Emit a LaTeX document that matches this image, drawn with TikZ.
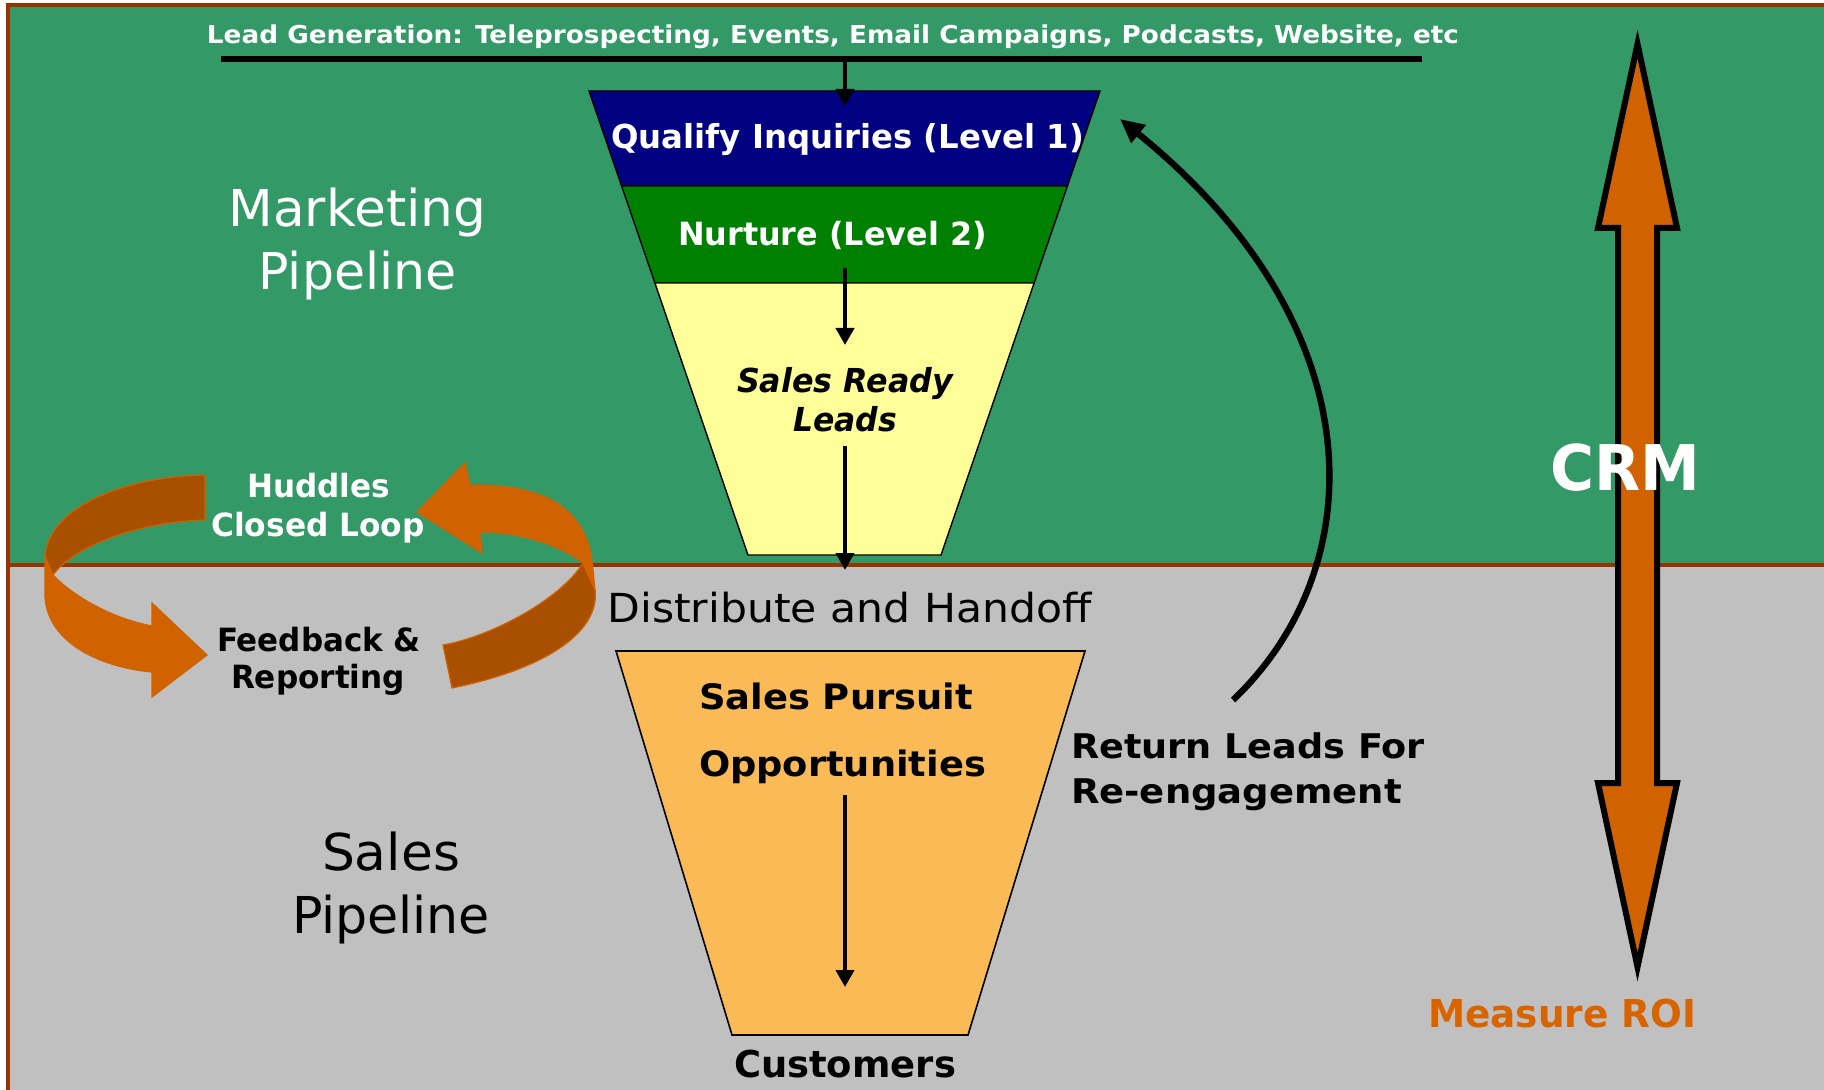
\documentclass[tikz,border=0pt]{standalone}
\usepackage{fontspec}
\setmainfont{DejaVu Sans}
\usepackage{graphicx}
\usetikzlibrary{arrows.meta}

\definecolor{bggreen}{HTML}{339966}
\definecolor{bggray}{HTML}{C0C0C0}
\definecolor{frame}{HTML}{993300}
\definecolor{navyband}{HTML}{000080}
\definecolor{greenband}{HTML}{008000}
\definecolor{leadyellow}{HTML}{FFFF99}
\definecolor{salesorange}{HTML}{FABA55}
\definecolor{arroworange}{HTML}{D06200}
\definecolor{ribbondark}{HTML}{A84F00}
\definecolor{roiorange}{HTML}{D86400}

% set a line of text and stretch it horizontally to a given width (in px units)
\newsavebox\fitbox
\newcommand\fitw[2]{\sbox{\fitbox}{#2}%
  \pgfmathsetmacro\fitfx{0.5*#1/\the\wd\fitbox}%
  \scalebox{\fitfx}[1]{\usebox{\fitbox}}}
\newcommand\fsz[1]{\fontsize{#1pt}{#1pt}\selectfont}

\tikzset{
  lbl/.style={inner sep=0pt, outer sep=0pt, anchor=base},
  lblw/.style={inner sep=0pt, outer sep=0pt, anchor=base west},
  flowarrow/.style={line width=2pt, -{Triangle[length=8.5pt,width=9pt]}},
  band/.style={draw=black, line width=0.7pt, line join=miter},
  ribbonback/.style={fill=ribbondark, draw=arroworange, line width=0.6pt},
  ribbonfront/.style={fill=arroworange, draw=arroworange, line width=0.6pt},
}

\begin{document}
\begin{tikzpicture}[x=0.5pt, y=-0.5pt]
\useasboundingbox (0,0) rectangle (1824,1090);
\clip (0,0) rectangle (1824,1090);

% two background panels
\draw[fill=bggreen, draw=frame, line width=2pt] (8,5) rectangle (1840,565);
\draw[fill=bggray, draw=frame, line width=2pt] (8,565) rectangle (1840,1110);

% lead generation bar
\coordinate (barL) at (221,59);
\coordinate (barR) at (1422,59);
\coordinate (barmid) at (845,59);
\draw[line width=3pt] (barL) -- (barR);

% marketing funnel
\path[band, fill=navyband]   (589,91) -- (1100,91) -- (1067.4,186) -- (621.6,186) -- cycle;
\path[band, fill=greenband]  (621.6,186) -- (1067.4,186) -- (1034.1,283) -- (654.9,283) -- cycle;
\path[band, fill=leadyellow] (654.9,283) -- (1034.1,283) -- (941,555) -- (748,555) -- cycle;

% sales funnel
\path[band, fill=salesorange, line width=0.8pt] (616,651) -- (1085,651) -- (968,1035) -- (732,1035) -- cycle;

% flow arrows through the funnels
\coordinate (qin) at (845,106);
\coordinate (nout) at (845,268);
\coordinate (srin) at (845,345);
\coordinate (srout) at (845,446);
\coordinate (handoff) at (845,570);
\coordinate (spout) at (845,795);
\coordinate (cust) at (845,987);
\draw[flowarrow] (barmid) -- (qin);
\draw[flowarrow] (nout) -- (srin);
\draw[flowarrow] (srout) -- (handoff);
\draw[flowarrow] (spout) -- (cust);

% return path for re-engagement
\coordinate (retstart) at (1233,700);
\coordinate (retend) at (1120,119);
\draw[line width=3.2pt, -{Triangle[length=12pt,width=11pt]}]
  (retstart) .. controls (1370,570) and (1380,330) .. (retend);

% CRM double arrow
\path[fill=arroworange, draw=black, line width=3pt, line join=miter, miter limit=10]
  (1637.5,44) -- (1677,228) -- (1657,228) -- (1657,783) -- (1677,783) -- (1637.5,967)
  -- (1598,783) -- (1618,783) -- (1618,228) -- (1598,228) -- cycle;

% closed loop ribbons: left arrow
\path[ribbonback] (205,475) .. controls (130,476) and (48,505) .. (45,557)
  -- (53,575) .. controls (75,545) and (140,522) .. (205,520) -- cycle;
\path[ribbonfront] (45,557) -- (53,575) .. controls (72,595) and (110,618) .. (152,626)
  -- (152,603) -- (207,655) -- (152,697) -- (152,672)
  .. controls (105,668) and (48,645) .. (45,597) -- cycle;

% closed loop ribbons: right arrow
\path[ribbonback] (583,563) -- (595,590) .. controls (600,630) and (550,668) .. (452,688)
  -- (443,645) .. controls (490,637) and (560,600) .. (583,563) -- cycle;
\path[ribbonfront] (470,485) .. controls (540,484) and (584,505) .. (592,560)
  -- (595,590) -- (583,563) .. controls (560,545) and (520,532) .. (480,532)
  -- (482,553) -- (417,512) -- (465,463) -- cycle;

% texts
\node[lbl, text=white] (leadgen) at (833,44)
  {\fitw{1252}{\fsz{12.3}\bfseries Lead Generation: Teleprospecting, Events, Email Campaigns, Podcasts, Website, etc}};
\node[lbl, text=white] (qualify) at (847.5,149) {\fitw{473}{\fsz{16.5}\bfseries Qualify Inquiries (Level 1)}};
\node[lbl, text=white] (nurture) at (832.5,246) {\fitw{309}{\fsz{16}\bfseries Nurture (Level 2)}};
\node[lbl] (srl1) at (845,393) {\fitw{216}{\fsz{16.5}\bfseries\itshape Sales Ready}};
\node[lbl] (srl2) at (845,432) {\fitw{104}{\fsz{16.5}\bfseries\itshape Leads}};
\node[lbl] (distrib) at (849.5,622.5) {\fitw{484}{\fsz{20}Distribute and Handoff}};
\node[lblw] (pursuit) at (699,709) {\fitw{274}{\fsz{17.5}\bfseries Sales Pursuit}};
\node[lblw] (opps) at (699,776) {\fitw{287}{\fsz{17.5}\bfseries Opportunities}};
\node[lbl] (customers) at (845,1077) {\fitw{222}{\fsz{18.5}\bfseries Customers}};
\node[lblw] (ret1) at (1071,758) {\fitw{354}{\fsz{17}\bfseries Return Leads For}};
\node[lblw] (ret2) at (1071,803) {\fitw{331}{\fsz{17}\bfseries Re-engagement}};
\node[lbl, text=white] (mkt1) at (357.5,226.7) {\fitw{258}{\fsz{25.4}Marketing}};
\node[lbl, text=white] (mkt2) at (357.5,290) {\fitw{198}{\fsz{25.4}Pipeline}};
\node[lbl] (sales1) at (391,870) {\fitw{138}{\fsz{25.4}Sales}};
\node[lbl] (sales2) at (391,933) {\fitw{198}{\fsz{25.4}Pipeline}};
\node[lbl, text=white] (huddles1) at (318.5,497) {\fitw{143}{\fsz{16}\bfseries Huddles}};
\node[lbl, text=white] (huddles2) at (318,537) {\fitw{213.5}{\fsz{16}\bfseries Closed Loop}};
\node[lbl] (feedback1) at (319,651) {\fitw{204}{\fsz{16}\bfseries Feedback \&}};
\node[lbl] (feedback2) at (318,688) {\fitw{174}{\fsz{16}\bfseries Reporting}};
\node[lbl, text=white] (crm) at (1625,490) {\fitw{150}{\fsz{31.5}\bfseries CRM}};
\node[lbl, text=roiorange] (roi) at (1562,1027) {\fitw{268}{\fsz{19.2}\bfseries Measure ROI}};
\end{tikzpicture}
\end{document}
